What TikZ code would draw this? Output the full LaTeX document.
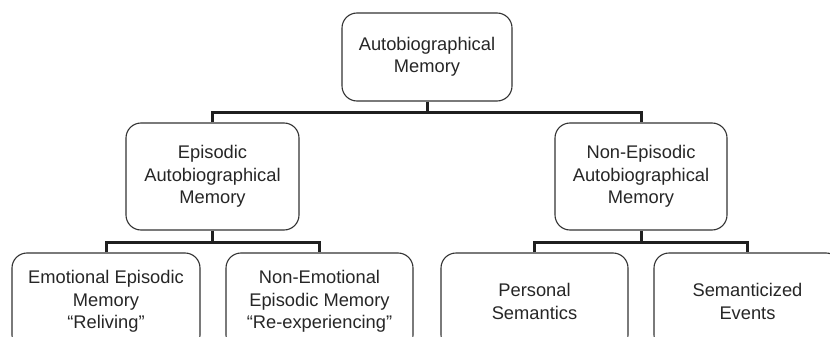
\documentclass[tikz,border=0pt]{standalone}
\usepackage{fontspec}
\setmainfont{Liberation Sans}
\begin{document}
\begin{tikzpicture}[x=1pt,y=-1pt,
  box/.style={draw=black!80, line width=1.1pt, rounded corners=15pt, align=center,
    font=\fontsize{18.3}{22.5}\selectfont, text=black!85, inner sep=0pt},
  conn/.style={draw=black!88, line width=3pt}]
\useasboundingbox (0,0) rectangle (830,337);
\clip (0,0) rectangle (830,337);
\node[box, minimum width=170pt, minimum height=88pt] (top) at (427,57) {Autobiographical\\Memory};
\node[box, minimum width=173pt, minimum height=107pt] (epi) at (212.5,176.5) {Episodic\\Autobiographical\\Memory};
\node[box, minimum width=172pt, minimum height=107pt] (nonepi) at (641,176.5) {Non-Episodic\\Autobiographical\\Memory};
\node[box, minimum width=188pt, minimum height=97pt] (emo) at (106,301.5) {Emotional Episodic\\Memory\\“Reliving”};
\node[box, minimum width=187pt, minimum height=97pt] (nonemo) at (319.5,301.5) {Non-Emotional\\Episodic Memory\\“Re-experiencing”};
\node[box, minimum width=187pt, minimum height=97pt] (pers) at (534.5,301.5) {Personal\\Semantics};
\node[box, minimum width=187pt, minimum height=97pt] (sem) at (747.5,301.5) {Semanticized\\Events};
\coordinate (j1) at (427,112.5);
\coordinate (j2) at (212.5,242);
\coordinate (j3) at (641,242);
\draw[conn] (epi.north) |- (j1) -| (nonepi.north);
\draw[conn] (top.south) -- (j1);
\draw[conn] (emo.north) |- (j2) -| (nonemo.north);
\draw[conn] (epi.south) -- (j2);
\draw[conn] (pers.north) |- (j3) -| (sem.north);
\draw[conn] (nonepi.south) -- (j3);
\end{tikzpicture}
\end{document}
